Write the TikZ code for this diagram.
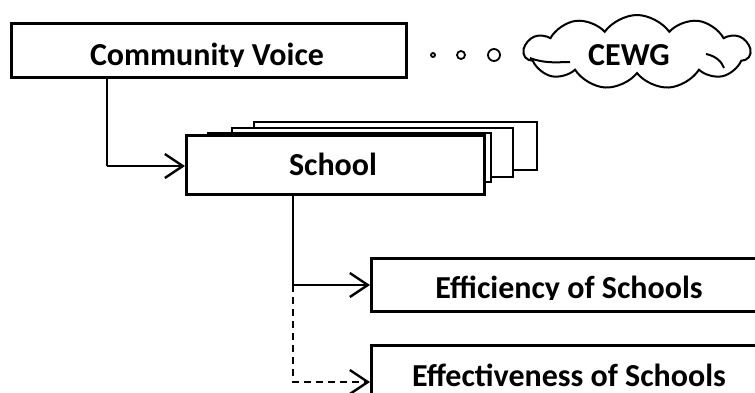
\documentclass[tikz,border=0pt]{standalone}
\usepackage{fontspec}
\setmainfont{Carlito}
\usetikzlibrary{shapes.symbols,arrows.meta}
\begin{document}
\begin{tikzpicture}[x=1pt,y=-1pt,
  box/.style={draw,line width=2.6pt,fill=white},
  backbox/.style={draw,line width=2pt,fill=white},
  lbl/.style={font=\bfseries\fontsize{32}{36}\selectfont,inner sep=0pt,anchor=base},
  conn/.style={line width=2.4pt},
  arr/.style={conn,-{Straight Barb[length=18pt,width=24pt,line width=2.4pt]}},
  bubble/.style={draw,line width=1.8pt,circle,inner sep=0pt}]
\useasboundingbox (0,0) rectangle (755,392);
% Community Voice
\node[box,minimum width=395pt,minimum height=54pt,anchor=north west] (cv) at (10,22) {};
\begin{scope}
\clip (10,22) rectangle (405,66);
\node[lbl] (cvt) at (207,65) {Community Voice};
\end{scope}
% thought bubbles
\node[bubble,minimum size=4pt] (b1) at (433,55) {};
\node[bubble,minimum size=8pt] (b2) at (461,55) {};
\node[bubble,minimum size=12pt] (b3) at (494,55) {};
% cloud
\node[cloud,draw,line width=2pt,cloud puffs=11,cloud puff arc=110,aspect=3,minimum width=226pt,minimum height=74pt] (cl) at (637,52) {};
\draw[line width=2pt] (530,58) .. controls (545,64) and (560,62) .. (570,62);
\draw[line width=2pt] (706,54) .. controls (716,56) and (722,62) .. (724,68);
\node[lbl] (cw) at (629,65) {CEWG};
% School stack
\node[backbox,minimum width=283pt,minimum height=48pt,anchor=north west] (s4) at (253,121) {};
\node[backbox,minimum width=281pt,minimum height=49pt,anchor=north west] (s3) at (231,127) {};
\node[backbox,minimum width=283pt,minimum height=49pt,anchor=north west] (s2) at (207,132) {};
\node[box,minimum width=298pt,minimum height=59pt,anchor=north west] (s1) at (185,134) {};
\node[lbl] (st) at (333,175) {School};
% outcome boxes
\node[box,minimum width=400pt,minimum height=53pt,anchor=north west] (ef) at (370,257) {};
\begin{scope}
\clip (370,257) rectangle (755,299);
\node[lbl] (eft) at (569,298) {Efficiency of Schools};
\end{scope}
\node[box,minimum width=400pt,minimum height=60pt,anchor=north west] (ev) at (370,344) {};
\node[lbl] (evt) at (569,386) {Effectiveness of Schools};
% connectors
\coordinate (c1) at (107,166);
\draw[conn] (cv.south -| c1) -- (c1);
\draw[arr] (c1) -- (s1.west |- c1);
\coordinate (j) at (293,285);
\draw[conn] (s1.south -| j) -- (j);
\draw[arr] (j) -- (ef.west |- j);
\coordinate (k) at (293,382);
\draw[arr,dash pattern=on 7pt off 5pt] (j) -- (k) -- (ev.west |- k);
\end{tikzpicture}
\end{document}
